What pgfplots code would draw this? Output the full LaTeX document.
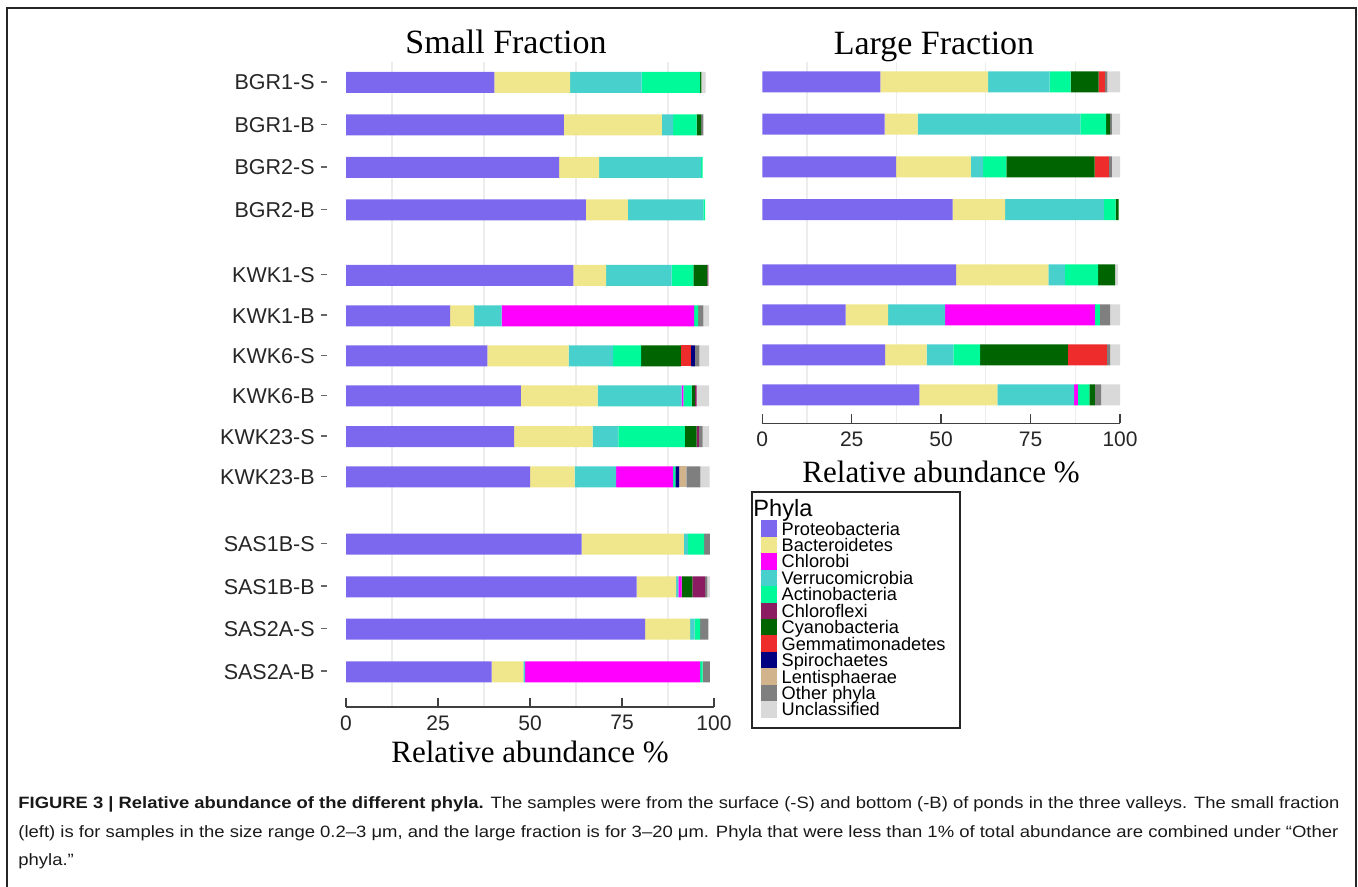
\documentclass[border=0pt]{standalone}
\usepackage{fontspec}
\setmainfont{Liberation Sans}
\newfontfamily\serif{Liberation Serif}
\newfontfamily\capfont{Liberation Sans}
\usepackage{graphicx}
\usepackage{pgfplots}
\usepackage{pgfplotstable}
\pgfplotsset{compat=1.18}

\definecolor{cP}{HTML}{7B68EE}
\definecolor{cB}{HTML}{F0E68C}
\definecolor{cCh}{HTML}{FF00FF}
\definecolor{cV}{HTML}{48D1CC}
\definecolor{cA}{HTML}{00FA9A}
\definecolor{cCf}{HTML}{8B1C62}
\definecolor{cCy}{HTML}{006400}
\definecolor{cG}{HTML}{EE2C2C}
\definecolor{cS}{HTML}{000080}
\definecolor{cL}{HTML}{D2B48C}
\definecolor{cO}{HTML}{7F7F7F}
\definecolor{cU}{HTML}{D9D9D9}
\definecolor{axc}{HTML}{404040}

% y = row position (image rows), segments in % (stacking order)
\pgfplotstableread{
y      P    B    V    Ch   A    Cy   Cf   G    S    L    O    U
-82.5  40.3 20.6 19.4 0    15.9 0.4  0    0    0    0    0    1.1
-125   59.2 26.6 3.1  0    6.4  1.2  0    0    0    0    0.6  0
-167.5 57.9 10.9 27.6 0    0.5  0    0    0    0    0    0    0
-210   65.2 11.4 20.5 0    0.5  0    0    0    0    0    0    0
-275.3 61.8 8.9  17.8 0    5.9  3.8  0.3  0    0    0    0    0
-315.8 28.3 6.5  7.5  52.3 1.1  0    0    0    0    0    1.4  1.6
-356   38.4 22.1 12.1 0    7.6  10.8 0    2.8  1.0  0    1.2  2.7
-396   47.5 20.9 22.8 0.5  2.2  0.9  0.5  0    0    0    0    3.4
-436.7 45.7 21.3 7.0  0    18.1 3.2  0.6  0    0    0    1.0  1.8
-477   50.0 12.1 11.3 15.5 0.6  0    0    0    1.0  2.0  3.8  2.5
-544.2 64.0 27.8 1.2  0    4.3  0    0    0    0    0    1.6  0
-586.8 79.0 10.7 0.6  0.9  0    2.9  3.5  0    0    0    0.6  0.7
-629.2 81.3 12.2 1.2  0    1.5  0    0    0    0    0    2.3  0
-671.8 39.6 8.6  0.5  47.5 0.7  0    0    0    0    0    2.0  0
}\smalltab

\pgfplotstableread{
y      P    B    V    Ch   A    Cy   Cf   G    S    L    O    U
-82    33.0 30.1 17.2 0    5.9  7.8  0    1.8  0    0    0.7  3.5
-124.2 34.2 9.2  45.5 0    7.2  1.1  0    0    0    0    0.5  2.3
-167   37.4 20.9 3.4  0    6.5  24.7 0    4.0  0    0    0.8  2.3
-209.7 53.2 14.7 27.6 0    3.3  0.8  0    0    0    0    0    0
-275   54.2 25.8 4.6  0    9.3  4.7  0    0    0    0    0    0.8
-315   23.3 11.9 15.9 41.9 1.4  0    0    0    0    0    2.8  2.8
-355   34.3 11.6 7.5  0    7.5  24.5 0    10.9 0    0    0.9  2.8
-395   43.9 21.8 21.5 1.0  3.2  1.6  0    0    0    0    1.7  5.3
}\largetab

\newcommand{\stackall}[1]{%
\addplot[fill=cP, draw=none] table[x=P,y=y]{#1};
\addplot[fill=cB, draw=none] table[x=B,y=y]{#1};
\addplot[fill=cV, draw=none] table[x=V,y=y]{#1};
\addplot[fill=cCh, draw=none] table[x=Ch,y=y]{#1};
\addplot[fill=cA, draw=none] table[x=A,y=y]{#1};
\addplot[fill=cCy, draw=none] table[x=Cy,y=y]{#1};
\addplot[fill=cCf, draw=none] table[x=Cf,y=y]{#1};
\addplot[fill=cG, draw=none] table[x=G,y=y]{#1};
\addplot[fill=cS, draw=none] table[x=S,y=y]{#1};
\addplot[fill=cL, draw=none] table[x=L,y=y]{#1};
\addplot[fill=cO, draw=none] table[x=O,y=y]{#1};
\addplot[fill=cU, draw=none] table[x=U,y=y]{#1};
}

\newcommand{\yl}[1]{#1\hspace{3pt}\textcolor{black!60}{\rule[3.6pt]{3pt}{0.75pt}}}

\pgfplotsset{
  panel/.style={
    scale only axis,
    xmin=0, xmax=100,
    xbar stacked, bar width=21,
    axis x line*=bottom, axis y line*=left,
    y axis line style={draw=none},
    ytick style={draw=none},
    x axis line style={axc, line width=0.75pt, -},
    xtick={0,25,50,75,100},
    xticklabels={0,25,50,75,100},
    xtick style={axc, line width=0.75pt},
    tick align=inside,
    major tick length=4.5pt,
    minor tick length=0pt,
    minor xtick={12.5,37.5,62.5,87.5},
    xminorgrids=true,
    minor grid style={black!7, line width=0.6pt},
    /pgf/number format/assume math mode=true,
    xticklabel style={font=\fontsize{10.5}{10.5}\selectfont, inner sep=0pt, anchor=north, yshift=-4pt, text=black!85},
    every axis title shift=0pt,
    title style={font=\serif\fontsize{17}{17}\selectfont, anchor=base, inner sep=0pt},
    xlabel style={font=\serif\fontsize{15.5}{15.5}\selectfont, anchor=center, inner sep=0pt},
  }
}

\newlength\capw
\newcommand{\capsize}{\capfont\fontsize{8.2}{9}\selectfont}
\newcommand{\lineone}{\textbf{FIGURE 3 | Relative abundance of the different phyla.} The samples were from the surface (-S) and bottom (-B) of ponds in the three valleys. The small fraction}
\newcommand{\linetwo}{(left) is for samples in the size range 0.2–3 μm, and the large fraction is for 3–20 μm. Phyla that were less than 1\% of total abundance are combined under “Other}

\begin{document}%
\settowidth\capw{\capsize\linetwo}%
\pgfmathsetmacro\capsx{660pt/\capw}%
\begin{tikzpicture}[x=0.5pt,y=0.5pt]
\useasboundingbox (0,0) rectangle (1358,887);
\draw[line width=1.2pt, black!85] (7,-5) -- (7,879) -- (1356,879) -- (1356,-5);

% ---------- Small fraction ----------
\begin{axis}[panel,
  at={(173pt,90pt)}, anchor=south west,
  width=184pt, height=322.5pt,
  ymin=-707, ymax=-62,
  ytick={-82.5,-125,-167.5,-210,-275.3,-315.8,-356,-396,-436.7,-477,-544.2,-586.8,-629.2,-671.8},
  yticklabels={\yl{BGR1-S},\yl{BGR1-B},\yl{BGR2-S},\yl{BGR2-B},\yl{KWK1-S},\yl{KWK1-B},\yl{KWK6-S},\yl{KWK6-B},\yl{KWK23-S},\yl{KWK23-B},\yl{SAS1B-S},\yl{SAS1B-B},\yl{SAS2A-S},\yl{SAS2A-B}},
  yticklabel style={font=\fontsize{10.75}{10.75}\selectfont, anchor=east, inner sep=0pt, xshift=-9.5pt, text=black!85},
  title={Small Fraction},
  title style={at={(axis description cs:0.4348,1.0124)}},
  xlabel={Relative abundance \%},
  xlabel style={at={(axis description cs:0.5,-0.0698)}},
]
\stackall{\smalltab}
\end{axis}

% ---------- Large fraction ----------
\begin{axis}[panel,
  at={(381.15pt,231.85pt)}, anchor=south west,
  width=178.85pt, height=180.65pt,
  ymin=-423.3, ymax=-62,
  ytick=\empty,
  title={Large Fraction},
  title style={at={(axis description cs:0.48,1.0221)}},
  xlabel={Relative abundance \%},
  xlabel style={at={(axis description cs:0.4996,-0.1348)}},
]
\stackall{\largetab}
\end{axis}

% ---------- Legend ----------
\begin{axis}[
  at={(173pt,90pt)}, anchor=south west, scale only axis,
  width=184pt, height=322.5pt, hide axis,
  xmin=0, xmax=1, ymin=0, ymax=1,
  legend image code/.code={\fill[#1, draw=none] (0pt,-4.11pt) rectangle (8pt,4.11pt);},
  legend cell align=left,
  legend style={at={(1.1269,0.2893)}, anchor=north west, draw=none, fill=none,
    inner sep=0pt, outer sep=0pt, row sep=0pt, column sep=0pt,
    font=\fontsize{9.1}{9.1}\selectfont,
    nodes={inner sep=0pt, inner xsep=2.5pt, text height=7.36pt, text depth=0.86pt}},
]
\addlegendimage{fill=cP, draw=none}\addlegendentry{Proteobacteria}
\addlegendimage{fill=cB, draw=none}\addlegendentry{Bacteroidetes}
\addlegendimage{fill=cCh, draw=none}\addlegendentry{Chlorobi}
\addlegendimage{fill=cV, draw=none}\addlegendentry{Verrucomicrobia}
\addlegendimage{fill=cA, draw=none}\addlegendentry{Actinobacteria}
\addlegendimage{fill=cCf, draw=none}\addlegendentry{Chloroflexi}
\addlegendimage{fill=cCy, draw=none}\addlegendentry{Cyanobacteria}
\addlegendimage{fill=cG, draw=none}\addlegendentry{Gemmatimonadetes}
\addlegendimage{fill=cS, draw=none}\addlegendentry{Spirochaetes}
\addlegendimage{fill=cL, draw=none}\addlegendentry{Lentisphaerae}
\addlegendimage{fill=cO, draw=none}\addlegendentry{Other phyla}
\addlegendimage{fill=cU, draw=none}\addlegendentry{Unclassified}
\end{axis}
\draw[line width=1pt, black!85] (751.7,395.3) rectangle (960,159);
\node[anchor=base west, inner sep=0pt, font=\fontsize{11.8}{11.8}\selectfont] at (753,370) {Phyla};

% ---------- Caption ----------
\node[anchor=base west, inner sep=0pt, text=black!90] at (18,78.5) {\capsize\resizebox{660.5pt}{\height}{\lineone}};
\node[anchor=base west, inner sep=0pt, text=black!90] at (18,49) {\capsize\resizebox{660pt}{\height}{\linetwo}};
\node[anchor=base west, inner sep=0pt, text=black!90] at (18,21) {\capsize\scalebox{\capsx}[1]{phyla.”}};
\end{tikzpicture}%
\end{document}
